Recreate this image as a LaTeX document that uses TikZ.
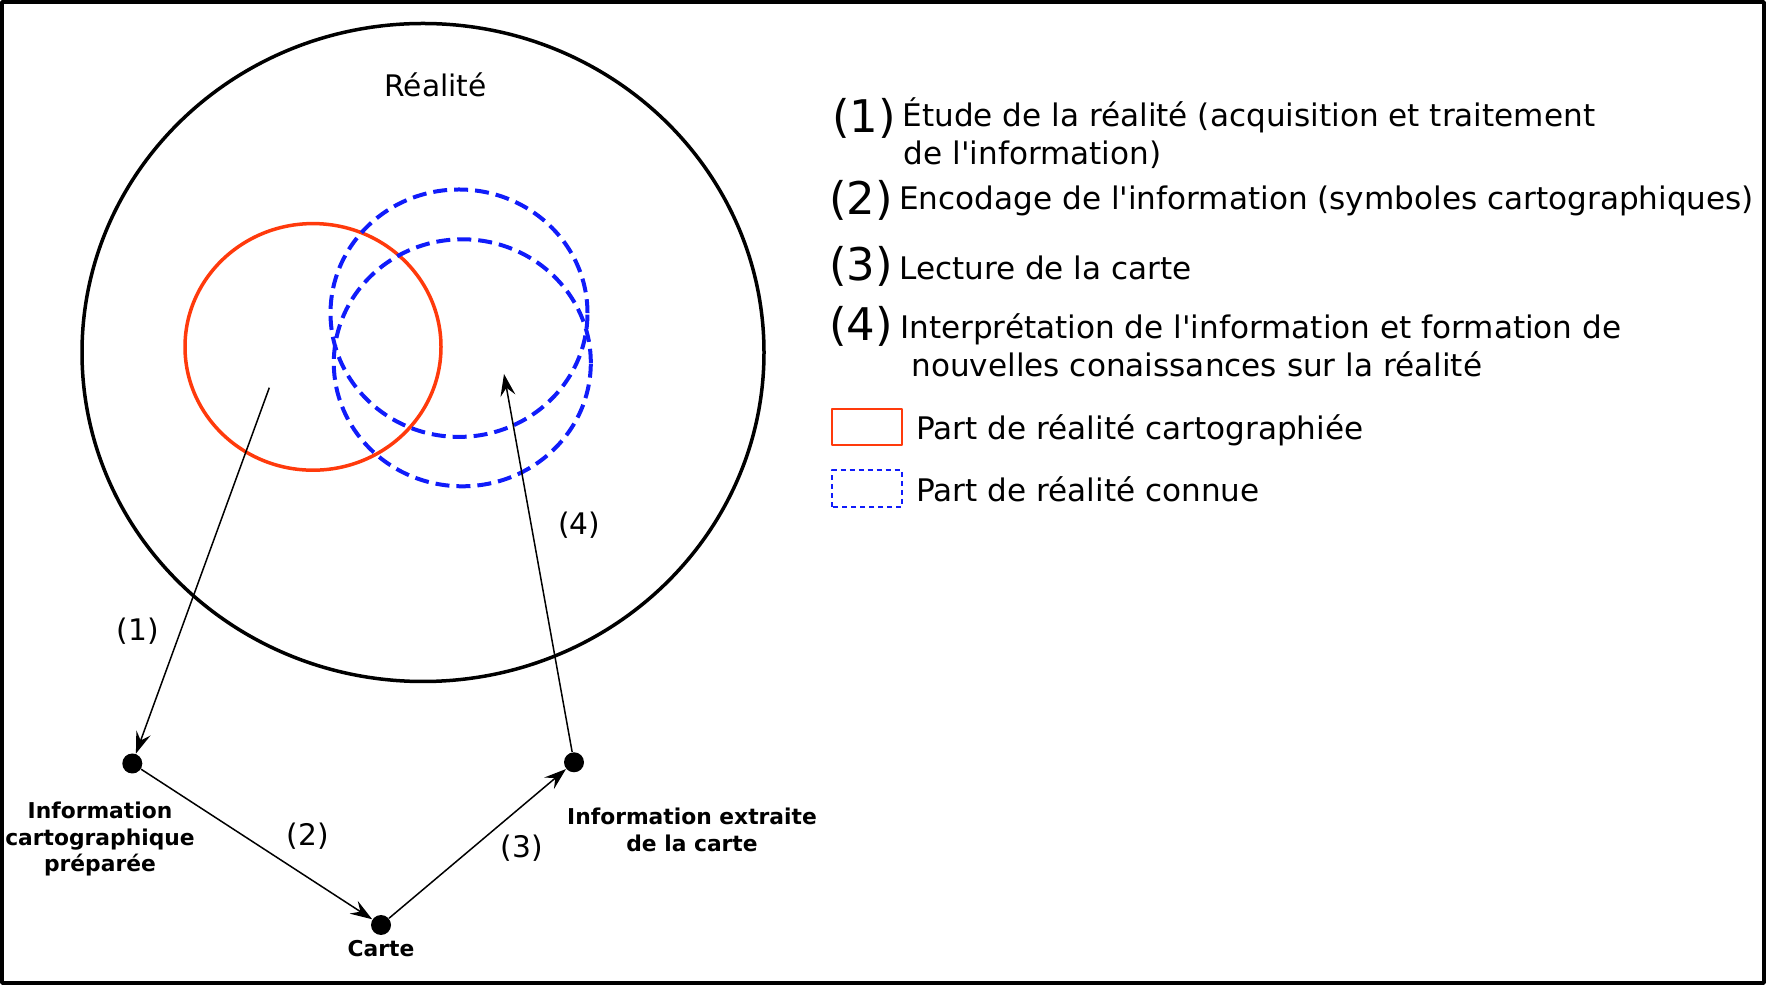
\documentclass[tikz,border=0pt]{standalone}
\usepackage{fontspec}
\setmainfont{DejaVu Sans}
\usetikzlibrary{arrows.meta}
\definecolor{rougecarto}{RGB}{255,58,12}
\definecolor{bleuconnu}{RGB}{16,28,250}

\begin{document}
\begin{tikzpicture}[>={Stealth[length=22bp,width=15bp,inset=8bp]},line join=bevel,
  dot/.style={circle,fill=black,inner sep=0pt,minimum size=20bp},
  lbl/.style={inner sep=0pt,anchor=center,font=\fontsize{29.7bp}{36bp}\selectfont},
  etiq/.style={inner sep=0pt,anchor=base,align=center,font=\fontsize{21.8bp}{26.5bp}\selectfont\bfseries},
  num/.style={inner sep=0pt,anchor=base,font=\fontsize{45bp}{50bp}\selectfont},
  item/.style={inner sep=0pt,anchor=base west,font=\fontsize{31.1bp}{38.3bp}\selectfont},
  connu/.style={draw=bleuconnu,dash pattern=on 14bp off 7bp},
  fleche/.style={->,line width=1.5bp}]
  \pgfsetlinewidth{1bp}
  \useasboundingbox (0bp,0bp) rectangle (1766bp,985bp);
  % Frame
  \draw [line width=4bp] (2bp,2bp) rectangle (1764bp,983bp);
%%
\begin{scope}[line width=3.5bp]
  % Realite
  \draw (423bp,632.5bp) ellipse (341bp and 329bp);
  \node [lbl,anchor=base] (realite) at (435.5bp,888.3bp) {Réalité};
  % Part cartographiee
  \draw [rougecarto] (313bp,638.1bp) ellipse (128bp and 123.3bp);
  % Part connue
  \draw [connu,line width=4bp] (459bp,671.8bp) ellipse (128.5bp and 123.7bp);
  \draw [connu,line width=4bp] (462.3bp,622.2bp) ellipse (128.5bp and 123.5bp);
\end{scope}
  % Node: prep
  \node [dot] (prep) at (132.3bp,221.5bp) {};
  \node [etiq] (preplbl) at (100bp,113bp) {Information\\cartographique\\préparée};
  % Node: carte
  \node [dot] (carte) at (381bp,60bp) {};
  \node [etiq] (cartelbl) at (381bp,28.3bp) {Carte};
  % Node: extr
  \node [dot] (extr) at (574bp,222.7bp) {};
  \node [etiq] (extrlbl) at (692bp,133.5bp) {Information extraite\\de la carte};
  \coordinate (depart) at (269.3bp,597.3bp);
  \coordinate (retour) at (504bp,611bp);
  % Edge: depart -> prep
  \draw [fleche] (depart) -- (prep);
  \node [lbl] (l1) at (138bp,354bp) {(1)};
  % Edge: prep -> carte
  \draw [fleche] (prep) -- (carte);
  \node [lbl] (l2) at (307.8bp,148.8bp) {(2)};
  % Edge: carte -> extr
  \draw [fleche] (carte) -- (extr);
  \node [lbl] (l3) at (521.8bp,137.2bp) {(3)};
  % Edge: extr -> retour
  \draw [fleche] (extr) -- (retour);
  \node [lbl] (l4) at (579.4bp,459.5bp) {(4)};
%
  % Legende
  \node [num] (n1) at (864bp,852.8bp) {(1)};
  \node [item] (etude1) at (902bp,858.3bp) {Étude de la réalité (acquisition et traitement};
  \node [item] (etude2) at (903.3bp,820bp) {de l\textquotesingle information)};
  \node [num] (n2) at (861.3bp,770.8bp) {(2)};
  \node [item] (encod) at (898.7bp,775bp) {Encodage de l\textquotesingle information (symboles cartographiques)};
  \node [num] (n3) at (861.3bp,704.8bp) {(3)};
  \node [item] (lect) at (898.7bp,705.7bp) {Lecture de la carte};
  \node [num] (n4) at (861.3bp,644.1bp) {(4)};
  \node [item] (interp1) at (899.7bp,646.7bp) {Interprétation de l\textquotesingle information et formation de};
  \node [item] (interp2) at (911bp,608.3bp) {nouvelles conaissances sur la réalité};
  \draw [rougecarto,line width=2bp] (832bp,539.5bp) rectangle (902bp,576bp);
  \node [item] (part1) at (916bp,545bp) {Part de réalité cartographiée};
  \draw [bleuconnu,line width=2bp,dash pattern=on 5bp off 4bp] (832bp,478bp) rectangle (902bp,514.5bp);
  \node [item] (part2) at (916bp,483bp) {Part de réalité connue};
\end{tikzpicture}
\end{document}
